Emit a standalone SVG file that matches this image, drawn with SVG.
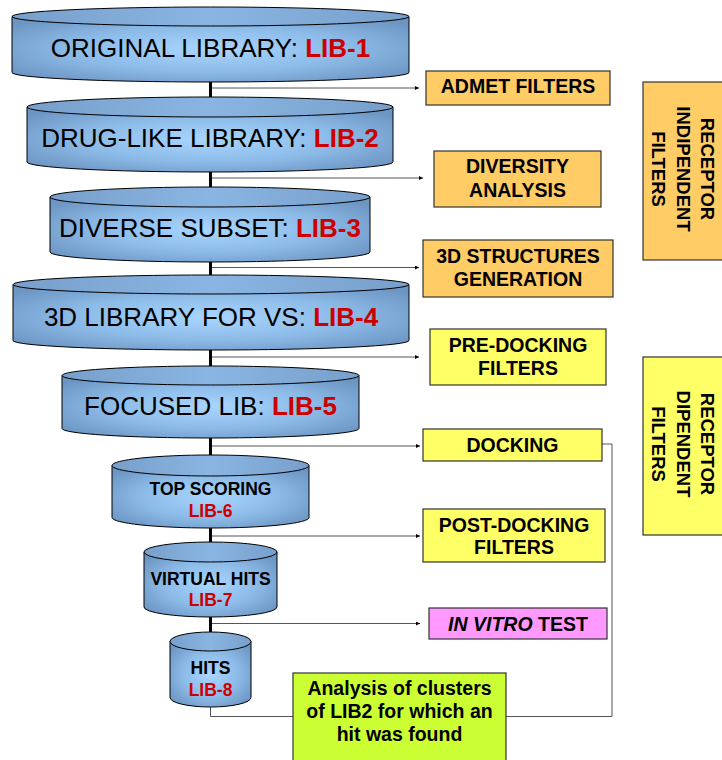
<svg xmlns="http://www.w3.org/2000/svg" width="722" height="760" viewBox="0 0 722 760">
<defs>
<radialGradient id="body" cx="50%" cy="50%" r="62%" fx="50%" fy="50%">
<stop offset="0" stop-color="#A8D6FF"/>
<stop offset="0.55" stop-color="#8DBBE8"/>
<stop offset="1" stop-color="#6C95C2"/>
</radialGradient>
<linearGradient id="top" x1="0" y1="0" x2="1" y2="0">
<stop offset="0" stop-color="#789FCB"/>
<stop offset="0.5" stop-color="#8AB5E2"/>
<stop offset="1" stop-color="#789FCB"/>
</linearGradient>
<marker id="arr" viewBox="0 0 6 6" refX="6" refY="3" markerWidth="4" markerHeight="4" markerUnits="userSpaceOnUse" orient="auto">
<path d="M0,0 L6,3 L0,6 Z" fill="#000"/>
</marker>
<style>
.cb{fill:url(#body);stroke:#000;stroke-width:1}
.ct{fill:url(#top);stroke:#000;stroke-width:1}
.big{font-family:"Liberation Sans",Arial,sans-serif;font-size:26px;fill:#000;text-anchor:middle}
.red{fill:#CC0000;font-weight:bold}
.sm{font-family:"Liberation Sans",Arial,sans-serif;font-size:17.5px;font-weight:bold;fill:#000;text-anchor:middle}
.smr{font-family:"Liberation Sans",Arial,sans-serif;font-size:17.5px;font-weight:bold;fill:#CC0000;text-anchor:middle}
.bx{font-family:"Liberation Sans",Arial,sans-serif;font-size:19.5px;font-weight:bold;fill:#000;text-anchor:middle}
.vt{font-family:"Liberation Sans",Arial,sans-serif;font-size:18.5px;font-weight:bold;fill:#000;text-anchor:middle}
.org{fill:#FFCC66;stroke:#333;stroke-width:1.2}
.yel{fill:#FFFF66;stroke:#333;stroke-width:1.2}
.pnk{fill:#FF99FF;stroke:#333;stroke-width:1.2}
.grn{fill:#CCFF33;stroke:#333;stroke-width:1.2}
.thin{stroke:#555;stroke-width:1;fill:none}
</style>
</defs>

<g id="connectors">
<line x1="210.5" y1="78" x2="210.5" y2="640" stroke="#000" stroke-width="3"/>
<line class="thin" x1="212" y1="88" x2="419" y2="88" marker-end="url(#arr)"/>
<line class="thin" x1="212" y1="178" x2="423" y2="178" marker-end="url(#arr)"/>
<line class="thin" x1="212" y1="267.5" x2="419" y2="267.5" marker-end="url(#arr)"/>
<line class="thin" x1="212" y1="357" x2="419" y2="357" marker-end="url(#arr)"/>
<line class="thin" x1="212" y1="446" x2="420" y2="446" marker-end="url(#arr)"/>
<line class="thin" x1="212" y1="536" x2="420" y2="536" marker-end="url(#arr)"/>
<line class="thin" x1="212" y1="623.5" x2="420" y2="623.5" marker-end="url(#arr)"/>
<polyline class="thin" points="602,444 612,444 612,716.5 210.5,716.5 210.5,700"/>
</g>

<g id="lib1">
<path class="cb" d="M12,16.5 V72.5 A198.5,9.5 0 0 0 409,72.5 V16.5 Z"/>
<ellipse class="ct" cx="210.5" cy="16.5" rx="198.5" ry="9.5"/>
<text class="big" x="210.5" y="56.5">ORIGINAL LIBRARY: <tspan class="red">LIB-1</tspan></text>
</g>
<g id="lib2">
<path class="cb" d="M27,107 V162 A183,10 0 0 0 393,162 V107 Z"/>
<ellipse class="ct" cx="210" cy="107" rx="183" ry="10"/>
<text class="big" x="210" y="147">DRUG-LIKE LIBRARY: <tspan class="red">LIB-2</tspan></text>
</g>
<g id="lib3">
<path class="cb" d="M50,197 V252 A160,10 0 0 0 370,252 V197 Z"/>
<ellipse class="ct" cx="210" cy="197" rx="160" ry="10"/>
<text class="big" x="210" y="237">DIVERSE SUBSET: <tspan class="red">LIB-3</tspan></text>
</g>
<g id="lib4">
<path class="cb" d="M13,284.5 V340.5 A198,9.5 0 0 0 409,340.5 V284.5 Z"/>
<ellipse class="ct" cx="211" cy="284.5" rx="198" ry="9.5"/>
<text class="big" x="211" y="325.5">3D LIBRARY FOR VS: <tspan class="red">LIB-4</tspan></text>
</g>
<g id="lib5">
<path class="cb" d="M62,375.5 V428.5 A148.5,9.5 0 0 0 359,428.5 V375.5 Z"/>
<ellipse class="ct" cx="210.5" cy="375.5" rx="148.5" ry="9.5"/>
<text class="big" x="210.5" y="414.5">FOCUSED LIB: <tspan class="red">LIB-5</tspan></text>
</g>
<g id="lib6">
<path class="cb" d="M112,465.5 V517.5 A98.5,10.5 0 0 0 309,517.5 V465.5 Z"/>
<ellipse class="ct" cx="210.5" cy="465.5" rx="98.5" ry="10.5"/>
<text class="sm" x="210.5" y="495">TOP SCORING</text>
<text class="smr" x="210.5" y="516.5">LIB-6</text>
</g>
<g id="lib7">
<path class="cb" d="M144,552 V607 A66.5,10 0 0 0 277,607 V552 Z"/>
<ellipse class="ct" cx="210.5" cy="552" rx="66.5" ry="10"/>
<text class="sm" x="210.5" y="584.5">VIRTUAL HITS</text>
<text class="smr" x="210.5" y="605.5">LIB-7</text>
</g>
<g id="lib8">
<path class="cb" d="M170,641.5 V697.5 A40.5,9.5 0 0 0 251,697.5 V641.5 Z"/>
<ellipse class="ct" cx="210.5" cy="641.5" rx="40.5" ry="9.5"/>
<text class="sm" x="210.5" y="674">HITS</text>
<text class="smr" x="210.5" y="695.5">LIB-8</text>
</g>

<g id="admet">
<rect class="org" x="426" y="71" width="184" height="34"/>
<text class="bx" x="518" y="93">ADMET FILTERS</text>
</g>
<g id="diversity">
<rect class="org" x="434" y="151" width="167" height="56"/>
<text class="bx" x="517.5" y="173">DIVERSITY</text>
<text class="bx" x="517.5" y="196.5">ANALYSIS</text>
</g>
<g id="gen3d">
<rect class="org" x="423" y="240" width="190" height="57"/>
<text class="bx" x="518" y="263">3D STRUCTURES</text>
<text class="bx" x="518" y="285.5">GENERATION</text>
</g>
<g id="predocking">
<rect class="yel" x="430" y="329" width="176" height="56"/>
<text class="bx" x="518" y="352">PRE-DOCKING</text>
<text class="bx" x="518" y="374.5">FILTERS</text>
</g>
<g id="docking">
<rect class="yel" x="423" y="429" width="179" height="32"/>
<text class="bx" x="512.5" y="451.5">DOCKING</text>
</g>
<g id="postdocking">
<rect class="yel" x="423" y="509" width="182" height="53"/>
<text class="bx" x="514" y="531.5">POST-DOCKING</text>
<text class="bx" x="514" y="553.5">FILTERS</text>
</g>
<g id="invitro">
<rect class="pnk" x="429" y="608" width="178" height="31"/>
<text class="bx" x="518" y="630.5"><tspan font-style="italic">IN VITRO</tspan> TEST</text>
</g>
<g id="analysis">
<rect class="grn" x="293" y="673" width="213" height="100"/>
<text class="bx" x="399.5" y="695">Analysis of clusters</text>
<text class="bx" x="399.5" y="718">of LIB2 for which an</text>
<text class="bx" x="399.5" y="741">hit was found</text>
</g>
<g id="rif">
<rect class="org" x="643" y="82" width="90" height="178"/>
<g transform="translate(683,169) rotate(90)">
<text class="vt" x="0" y="-18">RECEPTOR</text>
<text class="vt" x="0" y="6.5">INDIPENDENT</text>
<text class="vt" x="0" y="31">FILTERS</text>
</g>
</g>
<g id="rdf">
<rect class="yel" x="643" y="357" width="90" height="178"/>
<g transform="translate(683,444) rotate(90)">
<text class="vt" x="0" y="-18">RECEPTOR</text>
<text class="vt" x="0" y="6.5">DIPENDENT</text>
<text class="vt" x="0" y="31">FILTERS</text>
</g>
</g>
</svg>
